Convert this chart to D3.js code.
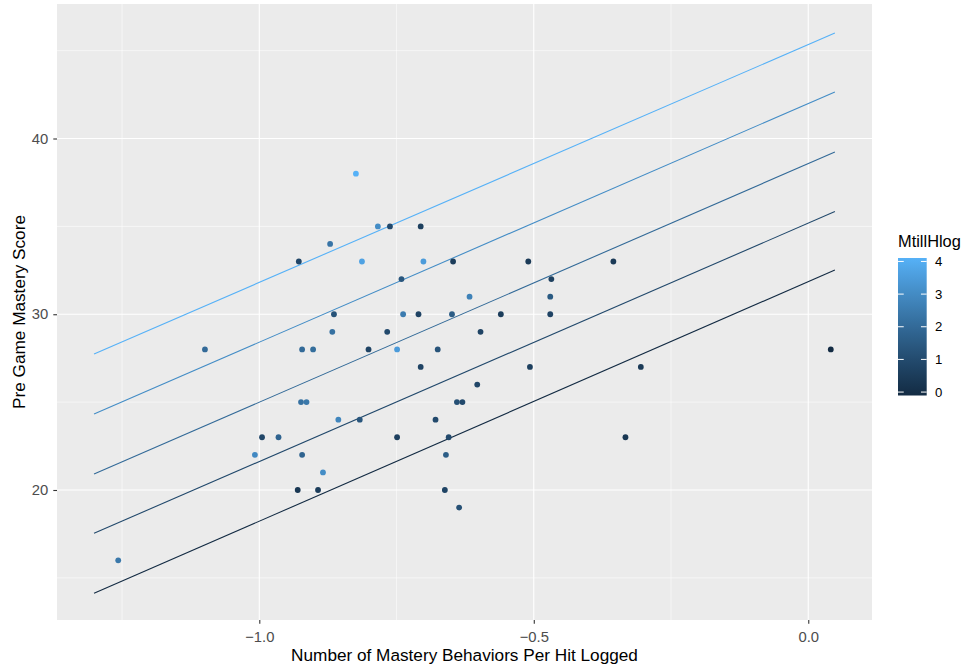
<!DOCTYPE html>
<html>
<head>
<meta charset="utf-8">
<script src="https://cdn.jsdelivr.net/npm/d3@7"></script>
<style>
  html, body { margin: 0; padding: 0; background: #fff; }
  svg { display: block; font-family: "Liberation Sans", Arial, sans-serif; }
</style>
</head>
<body>
<svg id="chart" width="964" height="670"></svg>
<script>
// ---- data ----
const behaviorsPerHit = [-0.824,-0.784,-0.762,-0.706,-0.871,-0.928,-0.813,-0.701,-0.741,-0.864,
  -0.738,-0.710,-0.649,-0.867,-0.767,-0.922,-0.902,-0.801,-0.749,-0.675,
  -0.706,-0.924,-0.914,-0.856,-0.817,-0.679,-0.995,-0.965,-0.749,-0.655,
  -1.008,-0.922,-0.660,-0.884,-0.930,-0.893,-0.662,-0.647,-0.510,-0.355,
  -0.468,-0.617,-0.470,-0.560,-0.470,-0.597,-0.507,-0.305,-0.603,-0.640,
  -0.630,-0.333,-0.636,-1.099,-1.257,0.041];
const preGameScore = [38,35,35,35,34,33,33,33,32,30,
  30,30,30,29,29,28,28,28,28,28,
  27,25,25,24,24,24,23,23,23,23,
  22,22,22,21,20,20,20,33,33,33,
  32,31,31,30,30,29,27,27,26,25,
  25,23,19,28,16,28];
const mtillHlog = [4.0,3.0,1.0,0.7,2.3,0.9,3.6,3.4,1.4,1.3,
  2.5,0.8,1.6,2.2,1.0,2.0,2.1,0.8,3.4,1.3,
  0.8,2.2,2.4,2.8,1.4,1.0,0.9,1.8,0.7,1.0,
  2.9,1.8,1.6,3.0,0.4,0.6,0.8,0.6,0.5,0.5,
  0.7,2.7,1.5,0.6,0.8,0.8,0.7,0.5,0.9,1.2,
  1.0,0.4,1.2,2.0,2.4,0.0];

// fitted lines, one per MtillHlog level
const lineLevels = [0, 1, 2, 3, 4];
const lineX = [-1.301, 0.0485];
const lineStartY = [14.12, 17.54, 20.91, 24.32, 27.74];
const lineEndY = [32.52, 35.84, 39.23, 42.65, 46.0];

const xTicks = [-1.0, -0.5, 0.0];
const xMinor = [-1.25, -0.75, -0.25];
const yTicks = [20, 30, 40];
const yMinor = [15, 25, 35, 45];
const legendTicks = [0, 1, 2, 3, 4];

const xTitle = "Number of Mastery Behaviors Per Hit Logged";
const yTitle = "Pre Game Mastery Score";
const legendTitle = "MtillHlog";

// ---- layout ----
const panel = { left: 57, right: 872, top: 4, bottom: 620 };
const svg = d3.select("#chart");

const x = d3.scaleLinear().domain([-1.3685, 0.1161]).range([panel.left, panel.right]);
const y = d3.scaleLinear().domain([12.603, 47.653]).range([panel.bottom, panel.top]);
const color = d3.scaleLinear().domain([0, 4]).range(["#132B43", "#56B1F7"]).interpolate(d3.interpolateLab);

// panel background
svg.append("rect")
  .attr("x", panel.left).attr("y", panel.top)
  .attr("width", panel.right - panel.left).attr("height", panel.bottom - panel.top)
  .attr("fill", "#EBEBEB");

const grid = svg.append("g");
grid.selectAll(".xminor").data(xMinor).join("line")
  .attr("x1", d => x(d)).attr("x2", d => x(d))
  .attr("y1", panel.top).attr("y2", panel.bottom)
  .attr("stroke", "#fff").attr("stroke-width", 0.55);
grid.selectAll(".yminor").data(yMinor).join("line")
  .attr("y1", d => y(d)).attr("y2", d => y(d))
  .attr("x1", panel.left).attr("x2", panel.right)
  .attr("stroke", "#fff").attr("stroke-width", 0.55);
grid.selectAll(".xmajor").data(xTicks).join("line")
  .attr("x1", d => x(d)).attr("x2", d => x(d))
  .attr("y1", panel.top).attr("y2", panel.bottom)
  .attr("stroke", "#fff").attr("stroke-width", 1.1);
grid.selectAll(".ymajor").data(yTicks).join("line")
  .attr("y1", d => y(d)).attr("y2", d => y(d))
  .attr("x1", panel.left).attr("x2", panel.right)
  .attr("stroke", "#fff").attr("stroke-width", 1.1);

// fitted lines
const lineData = lineLevels.map((m, i) => ({
  m, pts: [[lineX[0], lineStartY[i]], [lineX[1], lineEndY[i]]]
}));
const lineGen = d3.line().x(d => x(d[0])).y(d => y(d[1]));
svg.append("g").selectAll("path").data(lineData).join("path")
  .attr("d", d => lineGen(d.pts))
  .attr("fill", "none")
  .attr("stroke", d => color(d.m))
  .attr("stroke-width", 1.1);

// points
const points = behaviorsPerHit.map((v, i) => ({ x: v, y: preGameScore[i], m: mtillHlog[i] }));
svg.append("g").selectAll("circle").data(points).join("circle")
  .attr("cx", d => x(d.x)).attr("cy", d => y(d.y))
  .attr("r", 2.9)
  .attr("fill", d => color(d.m));

// axes
const xAxis = d3.axisBottom(x).tickValues(xTicks).tickFormat(d3.format(".1f")).tickSize(3.7);
const gx = svg.append("g").attr("transform", `translate(0,${panel.bottom})`).call(xAxis);
const yAxis = d3.axisLeft(y).tickValues(yTicks).tickFormat(d3.format("d")).tickSize(3.7).tickPadding(5);
const gy = svg.append("g").attr("transform", `translate(${panel.left},0)`).call(yAxis);
[gx, gy].forEach(g => {
  g.select(".domain").remove();
  g.selectAll(".tick line").attr("stroke", "#333").attr("stroke-width", 1.1);
  g.selectAll(".tick text").attr("fill", "#4D4D4D").attr("font-size", "14.8px")
    .attr("font-family", "Liberation Sans, Arial, sans-serif");
});
gx.selectAll(".tick text").attr("y", 22).attr("dy", 0);

// axis titles
svg.append("text")
  .attr("x", (panel.left + panel.right) / 2).attr("y", 661)
  .attr("text-anchor", "middle").attr("font-size", "17.2px").attr("fill", "#000")
  .text(xTitle);
svg.append("text")
  .attr("transform", `translate(25,${(panel.top + panel.bottom) / 2}) rotate(-90)`)
  .attr("text-anchor", "middle").attr("font-size", "17.2px").attr("fill", "#000")
  .text(yTitle);

// legend colour bar
const bar = { x: 898, y: 258, w: 28.7, h: 137.5 };
const defs = svg.append("defs");
const grad = defs.append("linearGradient").attr("id", "cbar")
  .attr("x1", 0).attr("y1", 1).attr("x2", 0).attr("y2", 0);
d3.range(0, 1.0001, 0.05).forEach(t => {
  grad.append("stop").attr("offset", t).attr("stop-color", color(t * 4));
});
const legend = svg.append("g");
legend.append("text")
  .attr("x", bar.x).attr("y", 247)
  .attr("font-size", "16.4px").attr("fill", "#000")
  .text(legendTitle);
legend.append("rect")
  .attr("x", bar.x).attr("y", bar.y).attr("width", bar.w).attr("height", bar.h)
  .attr("fill", "url(#cbar)");
const binHalf = bar.h / 20 / 2;
const ly = d3.scaleLinear().domain([0, 4]).range([bar.y + bar.h - binHalf, bar.y + binHalf]);
const tickLen = bar.w / 5;
legend.selectAll(".tl").data(legendTicks).join("line")
  .attr("x1", bar.x).attr("x2", bar.x + tickLen)
  .attr("y1", d => ly(d)).attr("y2", d => ly(d))
  .attr("stroke", "#fff").attr("stroke-width", 1);
legend.selectAll(".tr").data(legendTicks).join("line")
  .attr("x1", bar.x + bar.w - tickLen).attr("x2", bar.x + bar.w)
  .attr("y1", d => ly(d)).attr("y2", d => ly(d))
  .attr("stroke", "#fff").attr("stroke-width", 1);
legend.selectAll(".lt").data(legendTicks).join("text")
  .attr("x", 935).attr("y", d => ly(d))
  .attr("dy", "0.35em")
  .attr("font-size", "13.2px").attr("fill", "#000")
  .text(d => d);
</script>
</body>
</html>
